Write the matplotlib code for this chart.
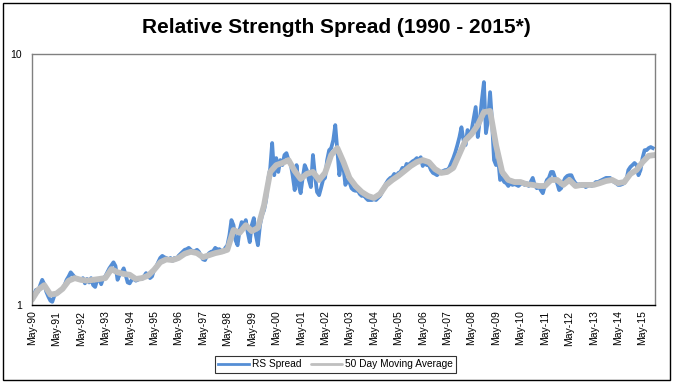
import pandas as pd
import matplotlib
matplotlib.use("Agg")
import matplotlib.pyplot as plt
import matplotlib.dates as mdates
from matplotlib.patches import Rectangle
from datetime import date

plt.rcParams['font.family'] = ['Liberation Sans', 'DejaVu Sans']

# monthly RS spread, May 1990 onwards
rs_spread = [
    1.05, 1.10, 1.15, 1.13, 1.20, 1.26, 1.21, 1.13, 1.08, 1.04, 1.03, 1.09,
    1.11, 1.12, 1.15, 1.16, 1.20, 1.26, 1.30, 1.35, 1.32, 1.29, 1.27, 1.27,
    1.26, 1.28, 1.22, 1.27, 1.23, 1.28, 1.20, 1.18, 1.26, 1.27, 1.21, 1.28,
    1.30, 1.35, 1.40, 1.44, 1.48, 1.43, 1.26, 1.32, 1.35, 1.40, 1.32, 1.23,
    1.22, 1.26, 1.27, 1.25, 1.26, 1.28, 1.27, 1.30, 1.34, 1.32, 1.28, 1.30,
    1.38, 1.42, 1.48, 1.54, 1.57, 1.55, 1.54, 1.51, 1.54, 1.50, 1.54, 1.52,
    1.57, 1.60, 1.63, 1.66, 1.67, 1.69, 1.66, 1.63, 1.64, 1.66, 1.63, 1.57,
    1.52, 1.51, 1.57, 1.61, 1.63, 1.64, 1.69, 1.66, 1.67, 1.64, 1.63, 1.69,
    1.73, 1.90, 2.18, 2.08, 1.81, 1.73, 1.99, 2.14, 2.08, 2.18, 1.95, 1.78,
    2.08, 2.22, 1.90, 1.73, 2.08, 2.28, 2.39, 2.62, 3.15, 3.51, 4.42, 3.29,
    3.85, 3.39, 3.78, 3.61, 3.96, 4.03, 3.78, 3.68, 3.29, 2.87, 3.61, 3.01,
    2.79, 3.21, 3.61, 3.45, 3.15, 2.95, 3.96, 3.29, 2.82, 2.74, 2.92, 3.15,
    3.21, 3.78, 4.14, 4.22, 4.54, 5.21, 4.14, 3.29, 3.71, 3.51, 3.01, 3.15,
    3.09, 2.92, 2.87, 2.85, 2.87, 2.77, 2.72, 2.74, 2.67, 2.62, 2.62, 2.62,
    2.64, 2.62, 2.67, 2.72, 2.82, 2.95, 3.06, 3.15, 3.21, 3.24, 3.33, 3.27,
    3.36, 3.39, 3.52, 3.45, 3.65, 3.61, 3.68, 3.74, 3.78, 3.85, 3.78, 3.88,
    3.58, 3.71, 3.61, 3.61, 3.45, 3.36, 3.33, 3.29, 3.36, 3.39, 3.42, 3.45,
    3.45, 3.52, 3.68, 3.85, 4.07, 4.34, 4.67, 5.11, 4.54, 4.34, 4.98, 4.75,
    4.98, 5.54, 6.15, 4.67, 5.45, 6.55, 7.73, 4.84, 5.45, 7.05, 5.45, 3.78,
    3.61, 3.85, 3.15, 3.21, 3.09, 3.06, 2.98, 3.06, 3.01, 3.03, 3.01, 2.98,
    3.03, 3.09, 3.01, 3.06, 2.98, 3.09, 3.21, 3.01, 2.92, 2.98, 2.87, 2.79,
    2.98, 3.15, 3.21, 3.39, 3.39, 3.21, 3.06, 2.87, 2.92, 3.09, 3.21, 3.27,
    3.29, 3.29, 3.15, 3.06, 3.01, 3.03, 2.98, 3.01, 2.95, 2.98, 3.01, 2.98,
    3.03, 3.09, 3.09, 3.12, 3.15, 3.18, 3.21, 3.21, 3.21, 3.15, 3.09, 3.06,
    3.01, 3.01, 3.03, 3.06, 3.15, 3.45, 3.55, 3.61, 3.68, 3.61, 3.29, 3.45,
    3.85, 4.14, 4.14, 4.22, 4.26, 4.22,
]

# 50 day moving average, read quarterly
moving_avg = [
    1.05, 1.15, 1.20, 1.10, 1.11, 1.16, 1.25, 1.28, 1.26, 1.25, 1.26, 1.27,
    1.28, 1.39, 1.35, 1.33, 1.32, 1.27, 1.28, 1.31, 1.38, 1.48, 1.52, 1.51,
    1.54, 1.60, 1.63, 1.61, 1.55, 1.58, 1.61, 1.63, 1.66, 1.99, 1.94, 2.08,
    1.97, 2.03, 2.50, 3.39, 3.61, 3.68, 3.78, 3.42, 3.18, 3.33, 3.39, 3.15,
    3.36, 3.96, 4.22, 3.71, 3.21, 2.98, 2.82, 2.72, 2.67, 2.77, 3.01, 3.15,
    3.27, 3.42, 3.58, 3.71, 3.78, 3.71, 3.48, 3.36, 3.39, 3.52, 4.00, 4.54,
    4.80, 5.21, 5.87, 5.93, 4.34, 3.39, 3.15, 3.09, 3.09, 3.03, 3.01, 2.98,
    2.98, 3.15, 3.15, 3.01, 3.15, 2.98, 3.01, 3.01, 3.01, 3.06, 3.12, 3.15,
    3.06, 3.09, 3.33, 3.45, 3.71, 3.93, 3.96,
]

year_ticks = list(range(1990, 2016))

rs_dates = pd.date_range("1990-05-01", periods=len(rs_spread), freq="MS")
ma_dates = pd.date_range("1990-05-01", periods=len(moving_avg), freq="3MS")

fig = plt.figure(figsize=(6.73, 3.86), dpi=100)
ax = fig.add_axes([0.0475, 0.2098, 0.9255, 0.6502])

ax.plot(rs_dates, rs_spread, color="#558ED5", lw=2.7, label="RS Spread",
        solid_joinstyle="round")
ax.plot(ma_dates, moving_avg, color="#BFBFBF", lw=4.2,
        label="50 Day Moving Average", solid_joinstyle="round",
        solid_capstyle="round")

ax.set_yscale("log")
ax.set_ylim(1, 10)
ax.set_yticks([1, 10])
ax.set_yticklabels(["1", "10"])
ax.yaxis.set_minor_locator(matplotlib.ticker.NullLocator())
ax.set_xlim(date(1990, 5, 1), date(2015, 11, 1))
ax.set_xticks([date(y, 5, 1) for y in year_ticks])
ax.xaxis.set_major_formatter(mdates.DateFormatter("%b-%y"))
ax.tick_params(axis="x", labelsize=7.5, rotation=90, length=0, pad=4)
ax.tick_params(axis="y", labelsize=7.5, length=0, pad=7)

for side in ["top", "right", "left"]:
    ax.spines[side].set_color("#808080")
    ax.spines[side].set_linewidth(1)
ax.spines["bottom"].set_color("black")
ax.spines["bottom"].set_linewidth(1)

fig.text(0.5, 0.928, "Relative Strength Spread (1990 - 2015*)", ha="center",
         va="center", fontsize=15, fontweight="bold")

leg = fig.legend(loc="center", bbox_to_anchor=(0.4985, 0.056), ncol=2,
                 fontsize=7.3, frameon=True, fancybox=False, borderpad=0.35,
                 handlelength=3, handletextpad=0.3, columnspacing=1.0)
leg.get_frame().set_edgecolor("black")
leg.get_frame().set_linewidth(0.8)
for line in leg.get_lines():
    line.set_linewidth(2)

fig.patches.append(Rectangle((0.0045, 0.0155), 0.991, 0.9765,
                             transform=fig.transFigure, fill=False,
                             edgecolor="black", lw=1))

fig.savefig("out.png", dpi=100)
